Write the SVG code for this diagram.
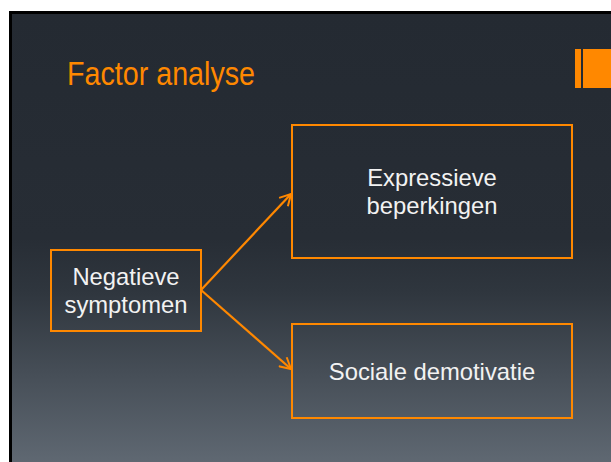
<svg xmlns="http://www.w3.org/2000/svg" width="611" height="462" viewBox="0 0 611 462">
<defs>
<linearGradient id="bg" gradientUnits="userSpaceOnUse" x1="0" y1="14" x2="0" y2="462">
<stop offset="0" stop-color="#242a32"/>
<stop offset="0.5" stop-color="#272d35"/>
<stop offset="0.62" stop-color="#2f363e"/>
<stop offset="1" stop-color="#5f6872"/>
</linearGradient>
<marker id="arr" markerWidth="14" markerHeight="14" refX="12" refY="7" orient="auto" markerUnits="userSpaceOnUse">
<path d="M1,1 L12,7 L1,13" fill="none" stroke="#ff8800" stroke-width="2"/>
</marker>
</defs>
<style>
.box{fill:none;stroke:#ff8800;stroke-width:2}
.t{font-family:"Liberation Sans",Arial,sans-serif;font-size:23.8px;fill:#f2f2f2;text-anchor:middle}
.c{stroke:#ff8800;stroke-width:2.2;fill:none}
</style>
<rect x="0" y="0" width="611" height="462" fill="#ffffff"/>
<rect x="9" y="11" width="602" height="451" fill="#000000"/>
<rect x="12" y="14" width="599" height="448" fill="url(#bg)"/>
<rect x="575" y="49" width="6" height="39" fill="#ff8800"/>
<rect x="583" y="49" width="28" height="39" fill="#ff8800"/>
<text x="67" y="85" font-family="Liberation Sans, Arial, sans-serif" font-size="34" fill="#ff8800" textLength="188" lengthAdjust="spacingAndGlyphs">Factor analyse</text>
<g id="connectors">
<line class="c" x1="201" y1="290" x2="291" y2="194" marker-end="url(#arr)"/>
<line class="c" x1="201" y1="290" x2="291" y2="369" marker-end="url(#arr)"/>
</g>
<g id="negatieve">
<rect class="box" x="51" y="250" width="150" height="81"/>
<text class="t" x="126" y="285">Negatieve</text>
<text class="t" x="126" y="313">symptomen</text>
</g>
<g id="expressieve">
<rect class="box" x="292" y="125" width="280" height="133"/>
<text class="t" x="432" y="186">Expressieve</text>
<text class="t" x="432" y="214">beperkingen</text>
</g>
<g id="sociale">
<rect class="box" x="292" y="324" width="280" height="94"/>
<text class="t" x="432" y="380">Sociale demotivatie</text>
</g>
</svg>
